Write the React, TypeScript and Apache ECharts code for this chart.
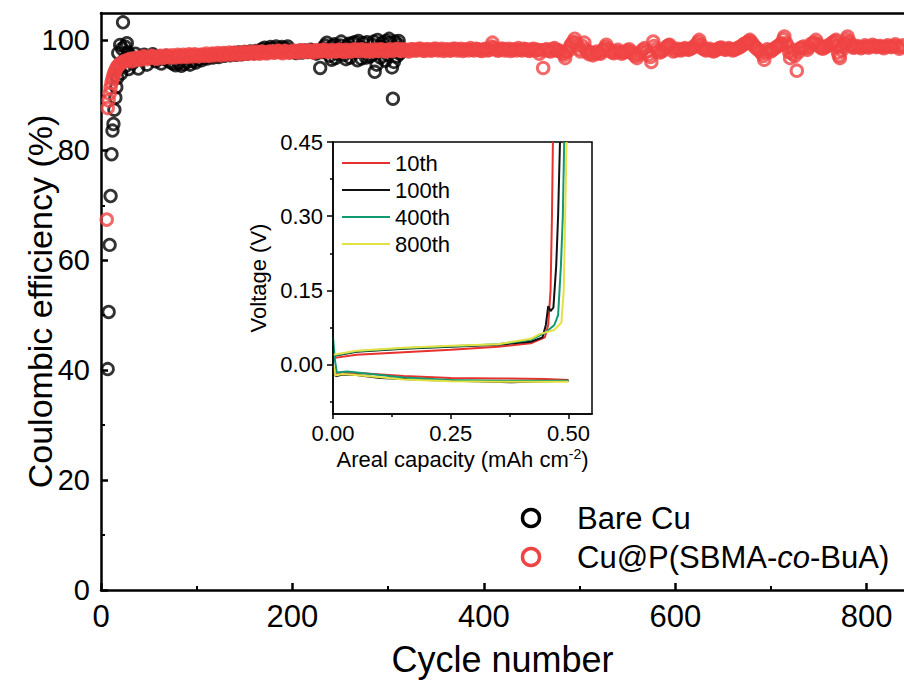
import React, { useEffect, useRef } from "react";
import * as echarts from "echarts";

const FONT = '"Liberation Sans", Arial, Helvetica, sans-serif';

// Tick values
const cycleTicks = [0, 200, 400, 600, 800];
const cycleMinorTicks = [100, 300, 500, 700];
const ceTicks = [0, 20, 40, 60, 80, 100];
const ceMinorTicks = [10, 30, 50, 70, 90];
const capTicks = [0, 0.25, 0.5];
const capMinorTicks = [0.125, 0.375];
const voltTicks = [0, 0.15, 0.3, 0.45];
const voltMinorTicks = [-0.075, 0.075, 0.225, 0.375];

// Coulombic efficiency [cycle, %]
const bareCu: number[][] = [
  [7, 40.2], [8, 50.6], [9, 62.8], [10, 71.7], [11, 79.3], [12, 83.6], [13, 84.8], [14, 87.4], [15, 89.6],
  [16, 91.5], [17, 93.2], [18, 97.7], [19, 95.0], [20, 99.2], [21, 94.0], [22, 98.5], [23, 103.3], [24, 96.4],
  [25, 98.9], [26, 95.4], [27, 99.5], [28, 97.8], [29, 94.8], [30, 97.3], [33, 95.9], [36, 97.6], [39, 94.9],
  [42, 96.8], [45, 97.4], [48, 95.6], [51, 96.9], [54, 97.5], [57, 96.2], [60, 97.0], [63, 95.8], [66, 96.6],
  [69, 97.2], [72, 96.1], [75, 95.8], [78, 95.5], [81, 95.9], [84, 95.4], [87, 95.7], [90, 96.1], [93, 95.6],
  [96, 96.3], [99, 96.0], [102, 96.6], [105, 96.4], [108, 96.9], [111, 96.7], [114, 97.1], [117, 96.9],
  [120, 97.3], [123, 97.0], [126, 97.4], [129, 97.2], [132, 97.5], [135, 97.3], [138, 97.7], [141, 97.4],
  [144, 97.8], [147, 97.5], [150, 97.9], [153, 97.6], [156, 98.0], [159, 97.7], [162, 98.1], [165, 97.8],
  [168, 98.4], [171, 98.7], [174, 98.3], [177, 98.8], [180, 98.5], [183, 98.9], [186, 98.4], [189, 98.8],
  [192, 98.6], [195, 98.9], [198, 98.2], [201, 98.0], [204, 97.7], [207, 98.1], [210, 97.8], [213, 98.2],
  [216, 97.9], [219, 98.3], [222, 98.0], [225, 97.6], [229, 95.0], [231, 97.9], [232, 98.6], [234, 99.1],
  [236, 99.6], [238, 98.2], [239, 97.2], [241, 96.5], [242, 99.0], [244, 99.3], [245, 96.8], [247, 97.6],
  [248, 98.5], [250, 99.1], [251, 99.8], [253, 98.0], [254, 97.4], [256, 96.6], [257, 98.9], [259, 99.4],
  [260, 96.9], [262, 97.9], [263, 99.5], [265, 99.7], [266, 97.8], [268, 96.4], [269, 99.9], [271, 98.8],
  [272, 96.7], [274, 99.5], [275, 98.4], [277, 96.9], [278, 99.7], [280, 98.2], [281, 97.1], [283, 97.4],
  [284, 99.2], [285, 99.8], [286, 94.3], [288, 95.6], [289, 100.1], [291, 98.9], [292, 96.9], [294, 99.6],
  [295, 98.7], [297, 96.3], [298, 99.9], [299, 98.4], [300, 97.3], [301, 100.3], [302, 99.6], [303, 98.1],
  [304, 95.1], [305, 89.4], [306, 96.1], [307, 99.8], [308, 98.8], [309, 97.1], [310, 99.3], [311, 99.9],
  [312, 97.6],
];

const cuPolymer: number[][] = [
  [6, 67.4], [7, 87.7], [8, 89.1], [9, 90.3], [10, 91.4], [11, 92.3], [12, 93.0], [13, 93.6], [14, 94.1],
  [15, 94.5], [16, 94.9], [17, 95.2], [18, 95.4], [19, 95.6], [20, 95.8], [22, 96.0], [24, 96.2], [26, 96.3],
  [28, 96.5], [30, 96.6], [32, 96.2], [34, 96.4], [36, 96.8], [38, 96.9], [40, 96.5], [42, 96.6], [44, 97.1],
  [46, 97.0], [48, 96.6], [50, 96.8], [52, 97.2], [54, 97.1], [56, 96.8], [58, 96.7], [60, 97.1], [62, 97.2],
  [64, 96.8], [66, 96.9], [68, 97.3], [70, 97.1], [72, 96.9], [74, 97.3], [76, 97.0], [78, 96.9], [80, 97.4],
  [82, 97.2], [84, 97.0], [86, 97.4], [88, 97.2], [90, 97.0], [92, 97.5], [94, 97.3], [96, 97.1], [98, 97.5],
  [100, 97.3], [102, 97.1], [104, 97.4], [106, 97.4], [108, 97.2], [110, 97.6], [112, 97.3], [114, 97.2], [116, 97.6], [118, 97.5],
  [120, 97.3], [122, 97.7], [124, 97.5], [126, 97.3], [128, 97.7], [130, 97.6], [132, 97.4], [134, 97.8], [136, 97.6], [138, 97.4],
  [140, 97.8], [142, 97.7], [144, 97.5], [146, 97.5], [148, 97.8], [150, 97.9], [152, 97.6], [154, 97.6], [156, 97.9], [158, 97.8],
  [160, 97.6], [162, 98.0], [164, 97.8], [166, 97.6], [168, 98.0], [170, 97.9], [172, 97.7], [174, 97.7], [176, 98.0], [178, 98.0],
  [180, 97.8], [182, 97.8], [184, 98.1], [186, 98.1], [188, 97.8], [190, 97.7], [192, 98.1], [194, 98.0], [196, 97.8], [198, 97.8],
  [200, 98.1], [202, 98.1], [204, 97.9], [206, 97.8], [208, 98.2], [210, 98.2], [212, 97.9], [214, 97.9], [216, 98.2], [218, 98.1],
  [220, 97.9], [222, 97.8], [224, 98.2], [226, 98.2], [228, 98.0], [230, 98.0], [232, 98.3], [234, 98.3], [236, 98.0], [238, 97.9],
  [240, 98.2], [242, 98.2], [244, 98.0], [246, 98.0], [248, 98.3], [250, 98.3], [252, 98.0], [254, 97.9], [256, 98.3], [258, 98.2],
  [260, 98.0], [262, 98.0], [264, 98.3], [266, 98.4], [268, 98.1], [270, 98.1], [272, 98.4], [274, 98.3], [276, 98.1], [278, 98.0],
  [280, 98.3], [282, 98.2], [284, 98.0], [286, 98.4], [288, 98.2], [290, 98.1], [292, 98.4], [294, 98.3], [296, 98.1], [298, 98.0],
  [300, 98.3], [302, 98.4], [304, 98.1], [306, 98.2], [308, 98.4], [310, 98.5], [312, 98.2], [314, 98.1], [316, 98.4], [318, 98.3],
  [320, 98.1], [322, 98.0], [324, 98.4], [326, 98.4], [328, 98.2], [330, 98.2], [332, 98.5], [334, 98.5], [336, 98.2], [338, 98.1],
  [340, 98.4], [342, 98.4], [344, 98.2], [346, 98.2], [348, 98.5], [350, 98.5], [352, 98.2], [354, 98.3], [356, 98.5], [358, 98.1],
  [360, 98.3], [362, 98.4], [364, 98.2], [366, 98.2], [368, 98.5], [370, 98.5], [372, 98.2], [374, 98.3], [376, 98.5], [378, 98.1],
  [380, 98.3], [382, 98.4], [384, 98.2], [386, 98.6], [388, 98.3], [390, 98.2], [392, 98.5], [394, 98.4], [396, 98.2], [398, 98.1],
  [400, 98.4], [402, 98.5], [404, 98.2], [406, 98.3], [408, 98.9], [409, 99.6], [410, 98.7], [412, 98.4], [414, 98.2], [416, 98.2],
  [418, 98.5], [420, 98.5], [422, 98.2], [424, 98.3], [426, 98.5], [428, 98.1], [430, 98.3], [432, 98.4], [434, 98.2], [436, 98.6],
  [438, 98.3], [440, 98.2], [442, 98.5], [444, 98.4], [446, 98.2], [448, 98.1], [450, 98.4], [452, 98.5], [454, 98.2], [456, 98.3],
  [458, 97.6], [460, 98.2], [462, 95.0], [464, 98.3], [466, 98.4], [468, 98.1], [470, 98.0], [472, 98.5], [474, 98.6], [476, 98.2],
  [478, 98.2], [480, 98.0], [482, 97.7], [484, 97.4], [485, 96.8], [486, 97.9], [488, 98.1], [490, 98.8], [491, 99.2], [493, 99.7],
  [495, 100.3], [496, 99.6], [498, 99.1], [500, 98.4], [501, 98.0], [503, 99.0], [505, 99.6], [507, 98.3], [508, 97.9], [510, 97.5],
  [512, 97.8], [514, 97.3], [516, 97.6], [518, 98.0], [520, 97.7], [522, 97.6], [524, 98.1], [525, 98.4], [527, 98.8], [528, 99.2],
  [530, 98.5], [532, 98.1], [534, 97.8], [536, 97.7], [538, 98.0], [540, 98.3], [542, 97.9], [544, 97.6], [546, 97.8], [548, 97.9],
  [550, 98.2], [552, 98.4], [554, 97.9], [556, 97.5], [558, 97.2], [560, 96.8], [562, 97.4], [564, 97.9], [566, 98.3], [568, 98.6],
  [570, 98.0], [572, 97.4], [574, 97.0], [575, 96.1], [577, 99.8], [578, 99.0], [580, 98.5], [582, 98.1], [584, 97.8], [586, 98.0],
  [588, 98.3], [590, 98.6], [591, 98.9], [593, 99.1], [594, 99.2], [596, 98.6], [598, 98.0], [600, 98.2], [602, 98.5], [604, 98.3],
  [606, 98.2], [608, 98.4], [610, 98.6], [612, 98.4], [614, 98.3], [616, 98.5], [618, 98.7], [620, 98.9], [622, 99.3], [624, 99.7],
  [625, 100.1], [627, 99.2], [628, 98.6], [630, 98.4], [632, 98.2], [634, 98.3], [636, 98.5], [638, 98.2], [640, 98.0], [642, 98.2],
  [644, 98.4], [646, 98.6], [648, 98.7], [650, 98.5], [652, 98.3], [654, 98.4], [656, 98.6], [658, 98.4], [660, 98.2], [662, 98.3],
  [664, 98.5], [666, 98.7], [668, 98.8], [670, 99.1], [672, 99.4], [674, 99.5], [675, 99.6], [677, 99.9], [678, 100.1], [680, 99.6],
  [681, 99.3], [683, 98.9], [684, 98.7], [686, 98.4], [688, 98.1], [690, 97.7], [692, 97.2], [693, 96.5], [695, 97.8], [696, 98.4],
  [698, 98.2], [700, 98.0], [702, 98.3], [704, 98.6], [706, 98.8], [708, 99.1], [710, 99.3], [711, 99.5], [713, 100.2], [714, 100.7],
  [716, 99.5], [717, 99.0], [719, 97.9], [720, 96.8], [722, 97.6], [723, 98.3], [725, 97.2], [727, 94.5], [729, 97.9], [730, 98.5],
  [732, 98.7], [734, 98.9], [736, 98.6], [738, 98.3], [740, 98.8], [742, 99.4], [744, 99.5], [745, 99.6], [747, 100.1], [749, 99.4],
  [750, 99.0], [752, 98.7], [754, 98.5], [756, 98.7], [758, 98.9], [760, 99.1], [762, 99.3], [764, 99.5], [765, 99.7], [767, 99.9],
  [768, 100.1], [769, 99.0], [770, 97.8], [771, 97.2], [772, 96.8], [774, 98.2], [775, 98.9], [777, 99.3], [778, 99.6], [779, 100.2],
  [780, 100.7], [782, 99.8], [783, 99.2], [785, 98.9], [786, 98.7], [788, 98.8], [790, 99.0], [792, 98.8], [794, 98.6], [796, 98.8],
  [798, 99.1], [800, 98.9], [802, 98.7], [804, 98.9], [806, 99.2], [808, 99.0], [810, 98.8], [812, 98.9], [814, 99.0], [816, 98.8],
  [818, 98.6], [820, 98.9], [822, 99.1], [824, 98.9], [826, 98.8], [828, 99.0], [830, 99.3], [832, 98.9], [834, 98.5], [836, 98.8],
  [838, 99.1],
];

// Inset voltage profiles [areal capacity, voltage]
const plating10 = [[0, -0.018], [0.01, -0.02], [0.03, -0.016], [0.07, -0.018], [0.15, -0.023], [0.25, -0.027], [0.35, -0.028], [0.45, -0.029], [0.5, -0.031]];
const stripping10 = [[0, 0.013], [0.05, 0.02], [0.15, 0.025], [0.25, 0.03], [0.35, 0.036], [0.42, 0.043], [0.45, 0.055], [0.457, 0.08], [0.462, 0.15], [0.465, 0.3], [0.467, 0.45]];
const plating100 = [[0, -0.005], [0.006, -0.024], [0.02, -0.02], [0.05, -0.021], [0.1, -0.027], [0.2, -0.031], [0.3, -0.034], [0.38, -0.036], [0.45, -0.034], [0.5, -0.033]];
const stripping100 = [[0, 0.017], [0.05, 0.026], [0.15, 0.032], [0.25, 0.036], [0.35, 0.04], [0.42, 0.046], [0.445, 0.055], [0.452, 0.08], [0.457, 0.118], [0.462, 0.108], [0.468, 0.115], [0.474, 0.2], [0.478, 0.3], [0.482, 0.45]];
const plating400 = [[0, 0.055], [0.004, 0.01], [0.008, -0.016], [0.03, -0.014], [0.07, -0.018], [0.15, -0.026], [0.25, -0.031], [0.35, -0.033], [0.45, -0.033], [0.5, -0.033]];
const stripping400 = [[0, 0.018], [0.05, 0.027], [0.15, 0.033], [0.25, 0.037], [0.35, 0.041], [0.42, 0.05], [0.45, 0.064], [0.47, 0.08], [0.478, 0.1], [0.484, 0.2], [0.488, 0.3], [0.491, 0.45]];
const plating800 = [[0, 0.0], [0.005, -0.022], [0.02, -0.019], [0.06, -0.022], [0.15, -0.03], [0.25, -0.034], [0.35, -0.035], [0.45, -0.035], [0.5, -0.035]];
const stripping800 = [[0, 0.02], [0.05, 0.028], [0.15, 0.034], [0.25, 0.038], [0.35, 0.041], [0.42, 0.052], [0.44, 0.062], [0.47, 0.07], [0.485, 0.085], [0.49, 0.15], [0.493, 0.3], [0.496, 0.45]];

const cycleLabels = ["10th", "100th", "400th", "800th"];
const cycleColors = ["#e8302c", "#111111", "#119a72", "#e4e146"];
const profiles = [
  [plating10, stripping10],
  [plating100, stripping100],
  [plating400, stripping400],
  [plating800, stripping800],
];

const RED = "#f04444";

export default function App() {
  const ref = useRef<HTMLDivElement>(null);

  useEffect(() => {
    if (!ref.current) return;
    const chart = echarts.init(ref.current, undefined, { renderer: "svg" });

    const mainAxisLine = { show: true, onZero: false, lineStyle: { color: "#000", width: 2.5 } };
    const insetAxisLine = { show: true, onZero: false, lineStyle: { color: "#000", width: 1.5 } };
    const noLine = { show: false, onZero: false };

    const insetSeries: any[] = [];
    profiles.forEach((pair, i) => {
      pair.forEach((d) => {
        insetSeries.push({
          type: "line",
          name: cycleLabels[i],
          xAxisIndex: 3,
          yAxisIndex: 2,
          data: d,
          symbol: "none",
          showSymbol: false,
          lineStyle: { color: cycleColors[i], width: 2 },
          itemStyle: { color: cycleColors[i] },
          z: 5,
        });
      });
    });

    const option: any = {
      animation: false,
      backgroundColor: "#fff",
      textStyle: { fontFamily: FONT, color: "#000" },
      grid: [
        { left: 101, top: 13, right: 0, bottom: 92, show: false, containLabel: false, outerBoundsMode: "none" },
        {
          left: 333, top: 142, width: 259, height: 272, show: true, containLabel: false, outerBoundsMode: "none",
          backgroundColor: "#fff", borderColor: "#000", borderWidth: 1.5, z: 3,
        },
      ],
      xAxis: [
        {
          type: "value", gridIndex: 0, position: "bottom", min: 0, max: 839,
          name: "Cycle number", nameLocation: "middle", nameGap: 51, nameMoveOverlap: false,
          nameTextStyle: { fontSize: 36, fontFamily: FONT, color: "#000" },
          axisLine: mainAxisLine,
          axisTick: { show: true, inside: true, length: 7, customValues: cycleTicks, lineStyle: { width: 2.5, color: "#000" } },
          axisLabel: { show: true, customValues: cycleTicks, fontSize: 31, margin: 11, color: "#000", fontFamily: FONT },
          splitLine: { show: false },
        },
        {
          type: "value", gridIndex: 0, position: "bottom", min: 0, max: 839,
          axisLine: noLine,
          axisTick: { show: true, inside: true, length: 4, customValues: cycleMinorTicks, lineStyle: { width: 2, color: "#000" } },
          axisLabel: { show: false },
          splitLine: { show: false },
        },
        {
          type: "value", gridIndex: 0, position: "top", min: 0, max: 839,
          axisLine: mainAxisLine,
          axisTick: { show: false },
          axisLabel: { show: false },
          splitLine: { show: false },
        },
        {
          type: "value", gridIndex: 1, position: "bottom", min: 0, max: 0.55,
          name: "{n|Areal capacity (mAh cm}{s|-2}{n|)}", nameLocation: "middle", nameGap: 33, nameMoveOverlap: false,
          nameTextStyle: {
            fontFamily: FONT, color: "#000",
            rich: {
              n: { fontSize: 22, fontFamily: FONT, color: "#000", lineHeight: 24 },
              s: { fontSize: 14, fontFamily: FONT, color: "#000", verticalAlign: "top", lineHeight: 14 },
            },
          },
          axisLine: insetAxisLine,
          axisTick: { show: true, inside: false, length: 5, customValues: capTicks, lineStyle: { width: 1.5, color: "#000" } },
          axisLabel: { show: true, customValues: capTicks, fontSize: 22, margin: 8, color: "#000", fontFamily: FONT, formatter: (v: number) => v.toFixed(2) },
          splitLine: { show: false },
          z: 6,
        },
        {
          type: "value", gridIndex: 1, position: "bottom", min: 0, max: 0.55,
          axisLine: noLine,
          axisTick: { show: true, inside: false, length: 3, customValues: capMinorTicks, lineStyle: { width: 1.5, color: "#000" } },
          axisLabel: { show: false },
          splitLine: { show: false },
          z: 6,
        },
      ],
      yAxis: [
        {
          type: "value", gridIndex: 0, position: "left", min: 0, max: 105,
          name: "Coulombic efficiency (%)", nameLocation: "middle", nameGap: 44, nameMoveOverlap: false,
          nameTextStyle: { fontSize: 34, fontFamily: FONT, color: "#000" },
          axisLine: mainAxisLine,
          axisTick: { show: true, inside: true, length: 7, customValues: ceTicks, lineStyle: { width: 2.5, color: "#000" } },
          axisLabel: { show: true, customValues: ceTicks, fontSize: 29, margin: 11, color: "#000", fontFamily: FONT },
          splitLine: { show: false },
        },
        {
          type: "value", gridIndex: 0, position: "left", min: 0, max: 105,
          axisLine: noLine,
          axisTick: { show: true, inside: true, length: 4, customValues: ceMinorTicks, lineStyle: { width: 2, color: "#000" } },
          axisLabel: { show: false },
          splitLine: { show: false },
        },
        {
          type: "value", gridIndex: 1, position: "left", min: -0.1, max: 0.45,
          name: "Voltage (V)", nameLocation: "middle", nameGap: 64, nameMoveOverlap: false,
          nameTextStyle: { fontSize: 22, fontFamily: FONT, color: "#000" },
          axisLine: insetAxisLine,
          axisTick: { show: true, inside: false, length: 6, customValues: voltTicks, lineStyle: { width: 1.5, color: "#000" } },
          axisLabel: { show: true, customValues: voltTicks, fontSize: 22, margin: 10, color: "#000", fontFamily: FONT, formatter: (v: number) => v.toFixed(2) },
          splitLine: { show: false },
          z: 6,
        },
        {
          type: "value", gridIndex: 1, position: "left", min: -0.1, max: 0.45,
          axisLine: noLine,
          axisTick: { show: true, inside: false, length: 3, customValues: voltMinorTicks, lineStyle: { width: 1.5, color: "#000" } },
          axisLabel: { show: false },
          splitLine: { show: false },
          z: 6,
        },
      ],
      legend: {
        data: cycleLabels,
        orient: "vertical",
        left: 342,
        top: 152,
        padding: 0,
        icon: "rect",
        itemWidth: 48,
        itemHeight: 2,
        itemGap: 5,
        textStyle: { fontSize: 22, fontFamily: FONT, color: "#000", lineHeight: 22 },
        selectedMode: false,
        z: 10,
      },
      series: [
        {
          type: "scatter", name: "Bare Cu", xAxisIndex: 0, yAxisIndex: 0, data: bareCu,
          symbol: "circle", symbolSize: 11.5,
          itemStyle: { color: "rgba(0,0,0,0)", borderColor: "#000", borderWidth: 2.8 },
          z: 2,
        },
        {
          type: "scatter", name: "Cu@P(SBMA-co-BuA)", xAxisIndex: 0, yAxisIndex: 0, data: cuPolymer,
          symbol: "circle", symbolSize: 11.5,
          itemStyle: { color: "rgba(0,0,0,0)", borderColor: RED, borderWidth: 3 },
          z: 2,
        },
        ...insetSeries,
      ],
      graphic: [
        { type: "circle", shape: { cx: 531, cy: 518, r: 8.5 }, style: { fill: "none", stroke: "#000", lineWidth: 3.5 }, z: 20 },
        { type: "text", x: 577, y: 518, style: { text: "Bare Cu", fontSize: 31, fontFamily: FONT, fill: "#000", verticalAlign: "middle" }, z: 20 },
        { type: "circle", shape: { cx: 531, cy: 557, r: 8.5 }, style: { fill: "none", stroke: RED, lineWidth: 3.5 }, z: 20 },
        {
          type: "text", x: 577, y: 557, z: 20,
          style: {
            text: "{n|Cu@P(SBMA-}{i|co}{n|-BuA)}",
            verticalAlign: "middle",
            rich: {
              n: { fontSize: 31, fontFamily: FONT, fill: "#000" },
              i: { fontSize: 31, fontFamily: FONT, fontStyle: "italic", fill: "#000" },
            },
          },
        },
      ],
    };

    chart.setOption(option);
    return () => chart.dispose();
  }, []);

  return (
    <div
      ref={ref}
      style={{ position: "absolute", left: 0, top: 0, width: 904, height: 682 }}
    />
  );
}
